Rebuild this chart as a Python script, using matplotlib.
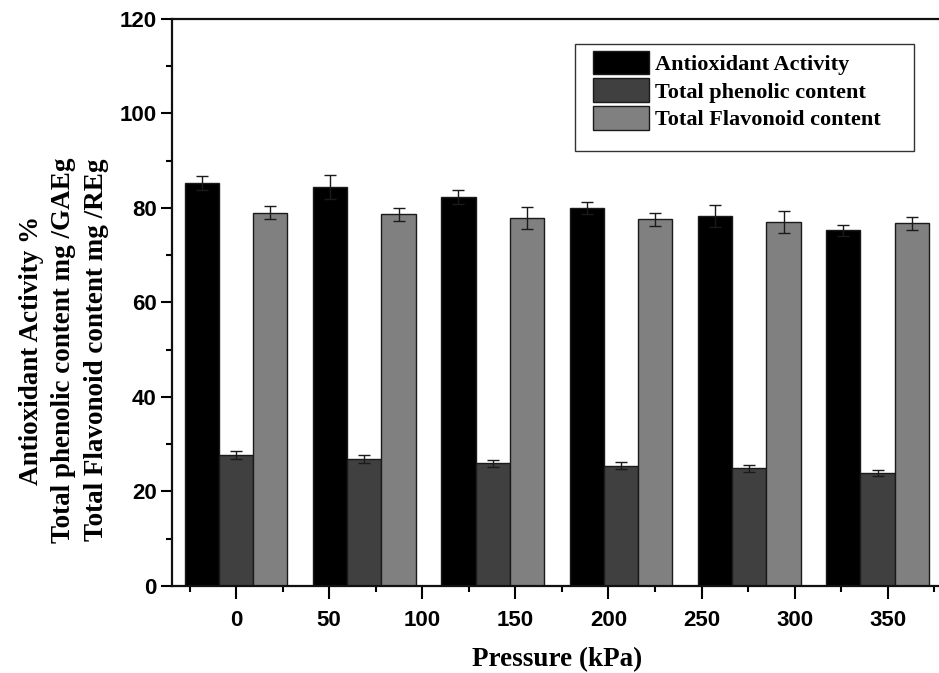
import matplotlib
matplotlib.use("Agg")
import matplotlib.pyplot as plt
import numpy as np
from matplotlib.patches import Patch, Rectangle
from matplotlib.ticker import MultipleLocator

# ---- data ----
series_names = ["Antioxidant Activity", "Total phenolic content", "Total Flavonoid content"]
antioxidant = [85.3, 84.4, 82.3, 80.0, 78.3, 75.2]
antioxidant_err = [1.5, 2.5, 1.5, 1.3, 2.3, 1.1]
phenolic = [27.7, 26.9, 26.0, 25.45, 24.9, 23.9]
phenolic_err = [0.8, 0.8, 0.75, 0.7, 0.8, 0.65]
flavonoid = [79.0, 78.6, 77.8, 77.6, 77.05, 76.7]
flavonoid_err = [1.35, 1.35, 2.35, 1.4, 2.3, 1.3]
xtick_labels = [0, 50, 100, 150, 200, 250, 300, 350]
colors = ["#000000", "#404040", "#808080"]

plt.rcParams["font.family"] = ["Liberation Sans", "DejaVu Sans"]
plt.rcParams["font.weight"] = "bold"

W, H = 939, 673
fig = plt.figure(figsize=(W / 100, H / 100), dpi=100)
ax = fig.add_axes([172 / W, 1 - 586 / H, (W - 172) / W, (586 - 18.7) / H])

group_spacing = 68.9
width = 18.4
gx = np.arange(len(antioxidant)) * group_spacing
vals = [antioxidant, phenolic, flavonoid]
errs = [antioxidant_err, phenolic_err, flavonoid_err]
offsets = [-width, 0, width]
for v, e, c, off in zip(vals, errs, colors, offsets):
    ax.bar(gx + off, v, width=width, color=c, edgecolor="#1a1a1a", linewidth=1.0, zorder=2)
    ax.errorbar(gx + off, v, yerr=e, fmt="none", ecolor="#1a1a1a", elinewidth=1.0,
                capsize=4, capthick=1.0, zorder=3)

ax.set_xlim(-34.4, 377.5)
ax.set_ylim(0, 120)
ax.set_xticks(xtick_labels)
ax.set_xticklabels([str(t) for t in xtick_labels])
ax.set_xticks(list(np.array(xtick_labels) - 25) + [375], minor=True)
ax.yaxis.set_major_locator(MultipleLocator(20))
ax.yaxis.set_minor_locator(MultipleLocator(10))

for s in ["left", "bottom", "top"]:
    ax.spines[s].set_linewidth(1.6)
    ax.spines[s].set_color("#111111")
ax.spines["right"].set_visible(False)

ax.tick_params(axis="both", which="major", direction="out", length=8, width=1.5,
               labelsize=16, pad=3)
ax.tick_params(axis="both", which="minor", direction="out", length=4, width=1.5)
ax.tick_params(axis="x", which="major", length=9, pad=8)
ax.tick_params(top=False, right=False, which="both")

serif = dict(family="Liberation Serif", weight="bold")
fig.text(557 / W, 1 - 660 / H, "Pressure (kPa)", ha="center", va="center", fontsize=19.5, **serif)
fig.text(64 / W, 1 - 350 / H,
         "Antioxidant Activity %\nTotal phenolic content mg /GAEg\nTotal Flavonoid content mg /REg",
         ha="center", va="center", rotation=90, fontsize=19.5, linespacing=1.42,
         multialignment="center", **serif)

# legend
handles = [Patch(facecolor=c, edgecolor="#1a1a1a", linewidth=1.0) for c in colors]
leg = ax.legend(handles, series_names, loc="upper left",
                bbox_to_anchor=((593 - 172) / (W - 172), (586 - 50.7) / (586 - 18.7)),
                borderaxespad=0, borderpad=0, frameon=False,
                handlelength=2.5, handleheight=1.25, handletextpad=0.3, labelspacing=0.16,
                prop=dict(family="Liberation Serif", weight="bold", size=16))
rect = Rectangle(((575 - 172) / (W - 172), (586 - 150.7) / (586 - 18.7)),
                 (914 - 575) / (W - 172), (150.7 - 44) / (586 - 18.7),
                 transform=ax.transAxes, fill=False, edgecolor="#333333", linewidth=1.0, zorder=4)
ax.add_patch(rect)

fig.savefig("out.png", dpi=100)
